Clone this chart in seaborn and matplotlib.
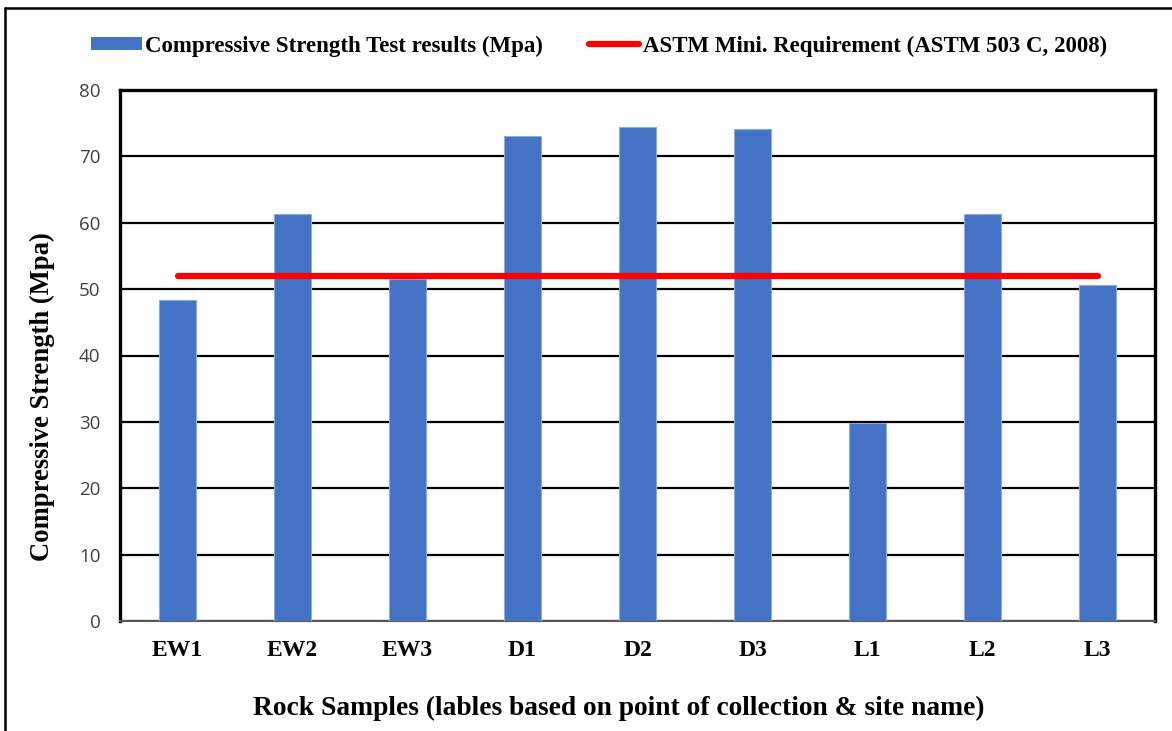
import matplotlib
matplotlib.use("Agg")
import matplotlib.pyplot as plt
import seaborn as sns
import pandas as pd
from matplotlib.patches import Patch
from matplotlib.lines import Line2D

samples = ["EW1", "EW2", "EW3", "D1", "D2", "D3", "L1", "L2", "L3"]
strength = [48.4, 61.3, 51.5, 73.0, 74.5, 74.1, 29.8, 61.3, 50.6]
astm_req = [52, 52, 52, 52, 52, 52, 52, 52, 52]
yticks = [0, 10, 20, 30, 40, 50, 60, 70, 80]

bar_label = "Compressive Strength Test results (Mpa)"
line_label = "ASTM Mini. Requirement (ASTM 503 C, 2008)"

sns.set_theme(style="white")
plt.rcParams["font.family"] = ["Liberation Serif", "DejaVu Serif"]
plt.rcParams["text.color"] = "black"
plt.rcParams["axes.labelcolor"] = "black"

df = pd.DataFrame({"sample": samples, "strength": strength, "astm": astm_req})

fig = plt.figure(figsize=(11.72, 7.31), dpi=100)
W, H = 1172, 731
ax = fig.add_axes([120 / W, 1 - 621 / H, (1155 - 120) / W, (621 - 90) / H])

sns.barplot(data=df, x="sample", y="strength", color="#4472C4", width=0.33,
            saturation=1, ax=ax, zorder=3, edgecolor="#8FAADC", linewidth=0.8)
ax.plot(range(len(samples)), df["astm"], color="#FF0000", lw=4.5,
        solid_capstyle="round", zorder=4)

ax.set_xlim(-0.5, len(samples) - 0.5)
ax.set_ylim(0, 80)
ax.set_yticks(yticks)
ax.set_yticklabels([str(t) for t in yticks], family=["Open Sans", "DejaVu Sans"],
                   fontsize=13.5, color="#404040")
ax.set_xticks(range(len(samples)))
ax.set_xticklabels(samples, fontsize=17, fontweight="bold", color="black")
ax.tick_params(axis="x", length=0, pad=14)
ax.tick_params(axis="y", length=0, pad=14)
ax.yaxis.grid(True, color="black", lw=1.6, zorder=1)
ax.set_axisbelow(True)
for side in ["left", "top", "right"]:
    ax.spines[side].set_color("black")
    ax.spines[side].set_linewidth(2.4)
ax.spines["bottom"].set_color("#595959")
ax.spines["bottom"].set_linewidth(1.5)

ax.set_xlabel("Rock Samples (lables based on point of collection & site name)",
              fontsize=19.8, fontweight="bold")
ax.xaxis.set_label_coords((619 - 120) / 1035, (621 - 708) / 531)
ax.xaxis.label.set_va("center")
ax.set_ylabel("Compressive Strength (Mpa)", fontsize=19.2, fontweight="bold")
ax.yaxis.set_label_coords((42 - 120) / 1035, (621 - 397) / 531)
ax.yaxis.label.set_va("center")

handles = [Patch(facecolor="#4472C4", edgecolor="none"),
           Line2D([0], [0], color="#FF0000", lw=4.5, solid_capstyle="round")]
fig.legend(handles, [bar_label, line_label], loc="center", ncol=2,
           bbox_to_anchor=(0.511, 1 - 46 / H), frameon=False,
           prop={"family": "Liberation Serif", "weight": "bold", "size": 16.5},
           handlelength=2.2, handleheight=0.55, handletextpad=0.15, columnspacing=2.0)

# outer border
fig.add_artist(Line2D([5 / W, 5 / W], [0, 1 - 8 / H], color="black", lw=1.8,
                      transform=fig.transFigure))
fig.add_artist(Line2D([5 / W, 1], [1 - 8 / H, 1 - 8 / H], color="black", lw=1.8,
                      transform=fig.transFigure))

fig.savefig("out.png", dpi=100)
